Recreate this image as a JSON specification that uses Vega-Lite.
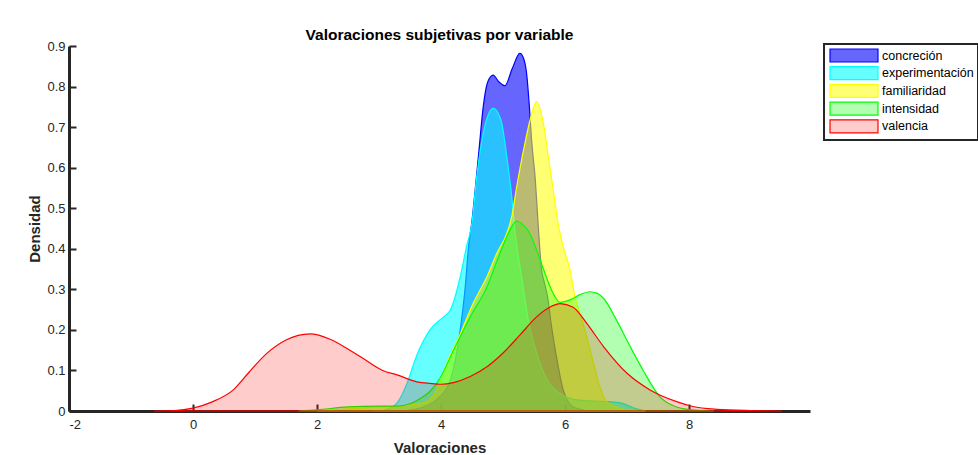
{
  "$schema": "https://vega.github.io/schema/vega-lite/v6.json",
  "width": 741,
  "height": 365,
  "autosize": {"type": "none"},
  "padding": {"left": 69, "top": 46, "right": 168, "bottom": 44},
  "background": "white",
  "title": {"text": "Valoraciones subjetivas por variable", "font": "Liberation Sans", "fontSize": 15.5, "fontWeight": "bold", "color": "#000000", "offset": -3, "anchor": "middle"},
  "data": {"values": [
    {"serie": "concreción", "x": 3.3, "y": 0},
    {"serie": "concreción", "x": 3.6, "y": 0.005},
    {"serie": "concreción", "x": 3.98, "y": 0.035},
    {"serie": "concreción", "x": 4.15, "y": 0.076},
    {"serie": "concreción", "x": 4.25, "y": 0.142},
    {"serie": "concreción", "x": 4.33, "y": 0.224},
    {"serie": "concreción", "x": 4.39, "y": 0.306},
    {"serie": "concreción", "x": 4.44, "y": 0.4},
    {"serie": "concreción", "x": 4.5, "y": 0.47},
    {"serie": "concreción", "x": 4.55, "y": 0.545},
    {"serie": "concreción", "x": 4.61, "y": 0.64},
    {"serie": "concreción", "x": 4.68, "y": 0.75},
    {"serie": "concreción", "x": 4.75, "y": 0.81},
    {"serie": "concreción", "x": 4.84, "y": 0.828},
    {"serie": "concreción", "x": 4.93, "y": 0.812},
    {"serie": "concreción", "x": 5.03, "y": 0.802},
    {"serie": "concreción", "x": 5.15, "y": 0.845},
    {"serie": "concreción", "x": 5.27, "y": 0.882},
    {"serie": "concreción", "x": 5.33, "y": 0.87},
    {"serie": "concreción", "x": 5.38, "y": 0.832},
    {"serie": "concreción", "x": 5.42, "y": 0.76},
    {"serie": "concreción", "x": 5.46, "y": 0.668},
    {"serie": "concreción", "x": 5.52, "y": 0.57},
    {"serie": "concreción", "x": 5.57, "y": 0.45},
    {"serie": "concreción", "x": 5.62, "y": 0.35},
    {"serie": "concreción", "x": 5.66, "y": 0.32},
    {"serie": "concreción", "x": 5.72, "y": 0.28},
    {"serie": "concreción", "x": 5.78, "y": 0.21},
    {"serie": "concreción", "x": 5.87, "y": 0.126},
    {"serie": "concreción", "x": 5.97, "y": 0.052},
    {"serie": "concreción", "x": 6.13, "y": 0.01},
    {"serie": "concreción", "x": 6.4, "y": 0},

    {"serie": "experimentación", "x": 2.9, "y": 0},
    {"serie": "experimentación", "x": 3.1, "y": 0.003},
    {"serie": "experimentación", "x": 3.29, "y": 0.02},
    {"serie": "experimentación", "x": 3.45, "y": 0.068},
    {"serie": "experimentación", "x": 3.6, "y": 0.134},
    {"serie": "experimentación", "x": 3.82, "y": 0.2},
    {"serie": "experimentación", "x": 4.04, "y": 0.232},
    {"serie": "experimentación", "x": 4.15, "y": 0.249},
    {"serie": "experimentación", "x": 4.31, "y": 0.331},
    {"serie": "experimentación", "x": 4.41, "y": 0.405},
    {"serie": "experimentación", "x": 4.5, "y": 0.465},
    {"serie": "experimentación", "x": 4.57, "y": 0.57},
    {"serie": "experimentación", "x": 4.68, "y": 0.685},
    {"serie": "experimentación", "x": 4.76, "y": 0.73},
    {"serie": "experimentación", "x": 4.84, "y": 0.746},
    {"serie": "experimentación", "x": 4.92, "y": 0.735},
    {"serie": "experimentación", "x": 4.98, "y": 0.709},
    {"serie": "experimentación", "x": 5.06, "y": 0.627},
    {"serie": "experimentación", "x": 5.14, "y": 0.528},
    {"serie": "experimentación", "x": 5.19, "y": 0.446},
    {"serie": "experimentación", "x": 5.3, "y": 0.33},
    {"serie": "experimentación", "x": 5.4, "y": 0.23},
    {"serie": "experimentación", "x": 5.55, "y": 0.14},
    {"serie": "experimentación", "x": 5.7, "y": 0.08},
    {"serie": "experimentación", "x": 5.9, "y": 0.045},
    {"serie": "experimentación", "x": 6.1, "y": 0.03},
    {"serie": "experimentación", "x": 6.4, "y": 0.025},
    {"serie": "experimentación", "x": 6.7, "y": 0.023},
    {"serie": "experimentación", "x": 6.9, "y": 0.02},
    {"serie": "experimentación", "x": 7.1, "y": 0.008},
    {"serie": "experimentación", "x": 7.3, "y": 0},

    {"serie": "familiaridad", "x": 2.0, "y": 0},
    {"serie": "familiaridad", "x": 2.5, "y": 0.005},
    {"serie": "familiaridad", "x": 3.0, "y": 0.01},
    {"serie": "familiaridad", "x": 3.4, "y": 0.013},
    {"serie": "familiaridad", "x": 3.6, "y": 0.017},
    {"serie": "familiaridad", "x": 3.77, "y": 0.023},
    {"serie": "familiaridad", "x": 3.93, "y": 0.052},
    {"serie": "familiaridad", "x": 4.09, "y": 0.117},
    {"serie": "familiaridad", "x": 4.31, "y": 0.19},
    {"serie": "familiaridad", "x": 4.52, "y": 0.266},
    {"serie": "familiaridad", "x": 4.74, "y": 0.331},
    {"serie": "familiaridad", "x": 4.9, "y": 0.389},
    {"serie": "familiaridad", "x": 5.06, "y": 0.438},
    {"serie": "familiaridad", "x": 5.14, "y": 0.479},
    {"serie": "familiaridad", "x": 5.22, "y": 0.553},
    {"serie": "familiaridad", "x": 5.33, "y": 0.643},
    {"serie": "familiaridad", "x": 5.44, "y": 0.72},
    {"serie": "familiaridad", "x": 5.54, "y": 0.763},
    {"serie": "familiaridad", "x": 5.65, "y": 0.709},
    {"serie": "familiaridad", "x": 5.73, "y": 0.627},
    {"serie": "familiaridad", "x": 5.81, "y": 0.545},
    {"serie": "familiaridad", "x": 5.89, "y": 0.46},
    {"serie": "familiaridad", "x": 5.97, "y": 0.405},
    {"serie": "familiaridad", "x": 6.08, "y": 0.348},
    {"serie": "familiaridad", "x": 6.16, "y": 0.282},
    {"serie": "familiaridad", "x": 6.24, "y": 0.241},
    {"serie": "familiaridad", "x": 6.35, "y": 0.183},
    {"serie": "familiaridad", "x": 6.46, "y": 0.117},
    {"serie": "familiaridad", "x": 6.56, "y": 0.06},
    {"serie": "familiaridad", "x": 6.67, "y": 0.023},
    {"serie": "familiaridad", "x": 6.83, "y": 0.01},
    {"serie": "familiaridad", "x": 7.0, "y": 0.002},
    {"serie": "familiaridad", "x": 7.3, "y": 0},

    {"serie": "intensidad", "x": 1.7, "y": 0},
    {"serie": "intensidad", "x": 2.0, "y": 0.003},
    {"serie": "intensidad", "x": 2.5, "y": 0.01},
    {"serie": "intensidad", "x": 3.0, "y": 0.012},
    {"serie": "intensidad", "x": 3.3, "y": 0.012},
    {"serie": "intensidad", "x": 3.5, "y": 0.018},
    {"serie": "intensidad", "x": 3.66, "y": 0.03},
    {"serie": "intensidad", "x": 3.82, "y": 0.048},
    {"serie": "intensidad", "x": 3.98, "y": 0.08},
    {"serie": "intensidad", "x": 4.2, "y": 0.15},
    {"serie": "intensidad", "x": 4.47, "y": 0.232},
    {"serie": "intensidad", "x": 4.74, "y": 0.306},
    {"serie": "intensidad", "x": 4.95, "y": 0.389},
    {"serie": "intensidad", "x": 5.11, "y": 0.446},
    {"serie": "intensidad", "x": 5.22, "y": 0.468},
    {"serie": "intensidad", "x": 5.3, "y": 0.462},
    {"serie": "intensidad", "x": 5.44, "y": 0.435},
    {"serie": "intensidad", "x": 5.6, "y": 0.372},
    {"serie": "intensidad", "x": 5.76, "y": 0.306},
    {"serie": "intensidad", "x": 5.92, "y": 0.268},
    {"serie": "intensidad", "x": 6.08, "y": 0.274},
    {"serie": "intensidad", "x": 6.24, "y": 0.287},
    {"serie": "intensidad", "x": 6.4, "y": 0.294},
    {"serie": "intensidad", "x": 6.52, "y": 0.29},
    {"serie": "intensidad", "x": 6.62, "y": 0.278},
    {"serie": "intensidad", "x": 6.83, "y": 0.224},
    {"serie": "intensidad", "x": 7.05, "y": 0.159},
    {"serie": "intensidad", "x": 7.26, "y": 0.1},
    {"serie": "intensidad", "x": 7.53, "y": 0.035},
    {"serie": "intensidad", "x": 7.8, "y": 0.01},
    {"serie": "intensidad", "x": 8.1, "y": 0.002},
    {"serie": "intensidad", "x": 8.4, "y": 0},

    {"serie": "valencia", "x": -0.63, "y": 0},
    {"serie": "valencia", "x": -0.3, "y": 0.001},
    {"serie": "valencia", "x": 0.0, "y": 0.007},
    {"serie": "valencia", "x": 0.3, "y": 0.022},
    {"serie": "valencia", "x": 0.65, "y": 0.052},
    {"serie": "valencia", "x": 0.9, "y": 0.095},
    {"serie": "valencia", "x": 1.19, "y": 0.142},
    {"serie": "valencia", "x": 1.5, "y": 0.175},
    {"serie": "valencia", "x": 1.89, "y": 0.19},
    {"serie": "valencia", "x": 2.21, "y": 0.177},
    {"serie": "valencia", "x": 2.53, "y": 0.15},
    {"serie": "valencia", "x": 2.74, "y": 0.13},
    {"serie": "valencia", "x": 3.06, "y": 0.1},
    {"serie": "valencia", "x": 3.29, "y": 0.089},
    {"serie": "valencia", "x": 3.61, "y": 0.072},
    {"serie": "valencia", "x": 3.82, "y": 0.068},
    {"serie": "valencia", "x": 4.0, "y": 0.066},
    {"serie": "valencia", "x": 4.2, "y": 0.07},
    {"serie": "valencia", "x": 4.47, "y": 0.085},
    {"serie": "valencia", "x": 4.74, "y": 0.109},
    {"serie": "valencia", "x": 5.0, "y": 0.143},
    {"serie": "valencia", "x": 5.27, "y": 0.187},
    {"serie": "valencia", "x": 5.54, "y": 0.232},
    {"serie": "valencia", "x": 5.75, "y": 0.256},
    {"serie": "valencia", "x": 5.92, "y": 0.265},
    {"serie": "valencia", "x": 6.13, "y": 0.256},
    {"serie": "valencia", "x": 6.35, "y": 0.216},
    {"serie": "valencia", "x": 6.62, "y": 0.159},
    {"serie": "valencia", "x": 7.0, "y": 0.093},
    {"serie": "valencia", "x": 7.37, "y": 0.052},
    {"serie": "valencia", "x": 7.8, "y": 0.023},
    {"serie": "valencia", "x": 8.06, "y": 0.011},
    {"serie": "valencia", "x": 8.45, "y": 0.004},
    {"serie": "valencia", "x": 9.0, "y": 0.001},
    {"serie": "valencia", "x": 9.5, "y": 0}
  ]},
  "mark": {"type": "area", "interpolate": "monotone", "strokeWidth": 1.2},
  "encoding": {
    "x": {"field": "x", "type": "quantitative",
      "scale": {"domain": [-2, 9.95], "nice": false, "zero": false},
      "axis": {"values": [-2, 0, 2, 4, 6, 8], "title": "Valoraciones", "labelExpr": "'' + datum.value"}},
    "y": {"field": "y", "type": "quantitative", "stack": null,
      "scale": {"domain": [0, 0.9], "nice": false},
      "axis": {"values": [0, 0.1, 0.2, 0.3, 0.4, 0.5, 0.6, 0.7, 0.8, 0.9], "title": "Densidad", "labelExpr": "'' + datum.value"}},
    "fill": {"field": "serie", "type": "nominal",
      "scale": {"domain": ["concreción", "experimentación", "familiaridad", "intensidad", "valencia"],
                "range": ["rgba(0,0,255,0.6)", "rgba(0,255,255,0.6)", "rgba(255,255,0,0.55)", "rgba(0,255,0,0.3)", "rgba(255,0,0,0.2)"]},
      "legend": {"title": null}},
    "stroke": {"field": "serie", "type": "nominal",
      "scale": {"domain": ["concreción", "experimentación", "familiaridad", "intensidad", "valencia"],
                "range": ["#0000ff", "#00ffff", "#ffff00", "#00ff00", "#ff0000"]},
      "legend": {"title": null}}
  },
  "config": {
    "view": {"stroke": null},
    "font": "Liberation Sans",
    "axis": {
      "grid": false,
      "domainColor": "#262626",
      "domainWidth": 3,
      "tickColor": "#262626",
      "tickWidth": 2,
      "tickSize": -7,
      "labelFont": "Liberation Sans",
      "labelFontSize": 13,
      "labelColor": "#262626",
      "titleFont": "Liberation Sans",
      "titleFontSize": 15,
      "titleFontWeight": "bold",
      "titleColor": "#262626"
    },
    "axisX": {"labelPadding": 14, "titlePadding": 9},
    "axisY": {"labelPadding": 11, "titlePadding": 4},
    "legend": {
      "orient": "none",
      "legendX": 755,
      "legendY": -2,
      "symbolType": "M-3.69,-1H3.69V1H-3.69Z",
      "symbolSize": 169,
      "symbolOffset": 18.5,
      "symbolStrokeWidth": 1.2,
      "symbolOpacity": 1,
      "labelFont": "Liberation Sans",
      "labelFontSize": 12.5,
      "labelColor": "#000000",
      "labelOffset": 20.5,
      "rowPadding": -1.3,
      "padding": 4,
      "strokeColor": "#262626",
      "strokeWidth": 2,
      "fillColor": "#ffffff"
    }
  }
}
